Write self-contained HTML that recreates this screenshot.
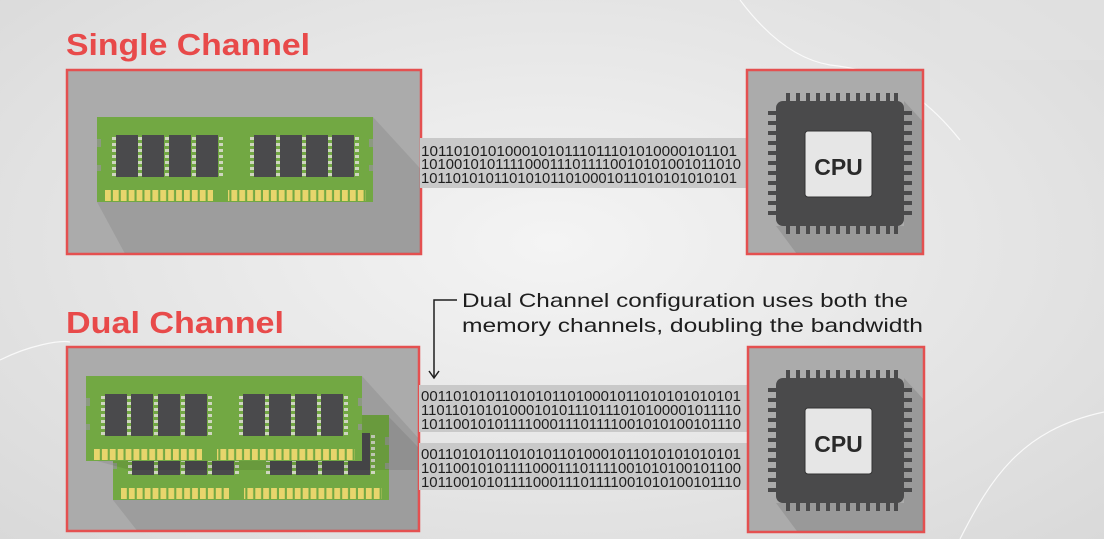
<!DOCTYPE html>
<html><head><meta charset="utf-8"><style>
html,body{margin:0;padding:0;width:1104px;height:539px;overflow:hidden}
body{background:radial-gradient(ellipse at 50% 45%,#f4f4f4 0%,#e4e4e4 60%,#d9d9d9 100%)}
svg{display:block}
</style></head><body>
<svg width="1104" height="539" viewBox="0 0 1104 539" xmlns="http://www.w3.org/2000/svg" font-family="Liberation Sans, sans-serif">
<defs>
<pattern id="gold" x="8" y="0" width="7.9" height="20" patternUnits="userSpaceOnUse"><rect x="0" y="0" width="5.8" height="20" fill="#e8d56c"/></pattern>
<g id="ram">
  <rect x="0" y="0" width="276" height="85" fill="#72a843"/>
  <rect x="0" y="22" width="4" height="8" fill="#8c9a80"/>
  <rect x="0" y="48" width="4" height="6" fill="#8c9a80"/>
  <rect x="272" y="22" width="4" height="8" fill="#8c9a80"/>
  <rect x="272" y="48" width="4" height="6" fill="#8c9a80"/>
  <g fill="#4a4a4c">
    <rect x="19" y="18" width="22" height="42"/><rect x="45" y="18" width="22" height="42"/>
    <rect x="72" y="18" width="22" height="42"/><rect x="99" y="18" width="22" height="42"/>
    <rect x="157" y="18" width="22" height="42"/><rect x="183" y="18" width="22" height="42"/>
    <rect x="209" y="18" width="22" height="42"/><rect x="235" y="18" width="22" height="42"/>
  </g>
  <g fill="#cfd6c0">
    <path d="M15 20h4v3h-4zM15 26h4v3h-4zM15 32h4v3h-4zM15 38h4v3h-4zM15 44h4v3h-4zM15 50h4v3h-4zM15 56h4v3h-4z" id="pc"/>
    <use href="#pc" x="26"/><use href="#pc" x="53"/><use href="#pc" x="80"/><use href="#pc" x="107"/>
    <use href="#pc" x="138"/><use href="#pc" x="164"/><use href="#pc" x="190"/><use href="#pc" x="216"/><use href="#pc" x="243"/>
  </g>
  <rect x="8" y="73" width="108" height="11" fill="url(#gold)"/>
  <rect x="131" y="73" width="138" height="11" fill="url(#gold)"/>
</g>
<g id="cpu">
  <polygon points="156,32 200,80 200,200 60,200 28,157 156,157" fill="#000" opacity="0.1"/>
  <g fill="#4a4a4b">
    <path id="tp" d="M38 24h4v10h-4zM48 24h4v10h-4zM58 24h4v10h-4zM68 24h4v10h-4zM78 24h4v10h-4zM88 24h4v10h-4zM98 24h4v10h-4zM108 24h4v10h-4zM118 24h4v10h-4zM128 24h4v10h-4zM138 24h4v10h-4zM146 24h4v10h-4z"/>
    <use href="#tp" y="131"/>
    <path id="lp" d="M20 42h10v4h-10zM20 52h10v4h-10zM20 62h10v4h-10zM20 72h10v4h-10zM20 82h10v4h-10zM20 92h10v4h-10zM20 102h10v4h-10zM20 112h10v4h-10zM20 122h10v4h-10zM20 132h10v4h-10zM20 142h10v4h-10z"/>
    <use href="#lp" x="134"/>
    <rect x="28" y="32" width="128" height="125" rx="7"/>
  </g>
  <rect x="57" y="62" width="67" height="66" rx="3" fill="#e6e6e6" stroke="#333" stroke-width="1"/>
  <text x="90.5" y="106" text-anchor="middle" font-size="23" font-weight="bold" fill="#2a2a2a">CPU</text>
</g>
<clipPath id="c1"><rect x="68" y="71" width="352" height="182"/></clipPath>
<clipPath id="c2"><rect x="68" y="348" width="350" height="182"/></clipPath>
<clipPath id="c3"><rect x="748" y="71" width="174" height="182"/></clipPath>
<clipPath id="c4"><rect x="749" y="348" width="174" height="183"/></clipPath>
</defs>

<path d="M740 0 C770 40 800 60 830 65 C880 70 920 90 960 140" fill="none" stroke="#fff" stroke-width="1.2" opacity="0.8"/>
<path d="M0 360 C30 345 60 340 70 342" fill="none" stroke="#fff" stroke-width="1.2" opacity="0.8"/>
<path d="M1104 412 C1020 430 990 480 960 539" fill="none" stroke="#fff" stroke-width="1.2" opacity="0.8"/>
<rect x="940" y="0" width="164" height="60" fill="#e3e3e3" opacity="0.6"/>

<text x="66" y="55" font-size="31" font-weight="bold" fill="#e84a4a" textLength="244" lengthAdjust="spacingAndGlyphs">Single Channel</text>
<text x="66" y="333" font-size="31" font-weight="bold" fill="#e84a4a" textLength="218" lengthAdjust="spacingAndGlyphs">Dual Channel</text>

<rect x="67" y="70" width="354" height="184" fill="#ababab" stroke="#e45050" stroke-width="2.5"/>
<g clip-path="url(#c1)">
  <polygon points="373,117 440,190 440,300 150,300 97,202 373,202" fill="#000" opacity="0.08"/>
  <use href="#ram" x="97" y="117"/>
</g>
<rect x="420" y="138" width="328" height="50" fill="#c9c9c9"/>
<g font-size="15" fill="#1e1e1e">
<text x="421" y="156" textLength="316" lengthAdjust="spacingAndGlyphs">10110101010001010111011101010000101101</text>
<text x="421" y="169" textLength="320" lengthAdjust="spacingAndGlyphs">1010010101111000111011110010101001011010</text>
<text x="421" y="183" textLength="316" lengthAdjust="spacingAndGlyphs">101101010110101011010001011010101010101</text>
</g>

<rect x="747" y="70" width="176" height="184" fill="#ababab" stroke="#e45050" stroke-width="2.5"/>
<g clip-path="url(#c3)"><use href="#cpu" x="748" y="69"/></g>

<text x="462" y="307" font-size="19.5" fill="#1e1e1e" textLength="446" lengthAdjust="spacingAndGlyphs">Dual Channel configuration uses both the</text>
<text x="462" y="332" font-size="19.5" fill="#1e1e1e" textLength="461" lengthAdjust="spacingAndGlyphs">memory channels, doubling the bandwidth</text>
<path d="M457 300 H434 V377" fill="none" stroke="#1e1e1e" stroke-width="1.5"/>
<path d="M429 371 L434 378 L439 371" fill="none" stroke="#1e1e1e" stroke-width="1.5"/>

<rect x="67" y="347" width="352" height="184" fill="#ababab" stroke="#e45050" stroke-width="2.5"/>
<g clip-path="url(#c2)">
  <polygon points="387,415 450,480 450,560 160,560 113,500 387,500" fill="#000" opacity="0.08"/>
  <use href="#ram" x="113" y="415"/>
  <polygon points="362,376 420,440 420,470 130,470 86,458 362,458" fill="#000" opacity="0.08"/>
  <use href="#ram" x="86" y="376"/>
</g>
<rect x="419" y="385" width="329" height="47" fill="#c9c9c9"/>
<rect x="419" y="443" width="329" height="47" fill="#c9c9c9"/>
<g font-size="15" fill="#1e1e1e">
<text x="421" y="401" textLength="320" lengthAdjust="spacingAndGlyphs">001101010110101011010001011010101010101</text>
<text x="421" y="415" textLength="320" lengthAdjust="spacingAndGlyphs">1101101010100010101110111010100001011110</text>
<text x="421" y="429" textLength="320" lengthAdjust="spacingAndGlyphs">1011001010111100011101111001010100101110</text>
<text x="421" y="459" textLength="320" lengthAdjust="spacingAndGlyphs">001101010110101011010001011010101010101</text>
<text x="421" y="473" textLength="320" lengthAdjust="spacingAndGlyphs">1011001010111100011101111001010100101100</text>
<text x="421" y="487" textLength="320" lengthAdjust="spacingAndGlyphs">1011001010111100011101111001010100101110</text>
</g>

<rect x="748" y="347" width="176" height="185" fill="#ababab" stroke="#e45050" stroke-width="2.5"/>
<g clip-path="url(#c4)"><use href="#cpu" x="748" y="346"/></g>
</svg>
</body></html>
